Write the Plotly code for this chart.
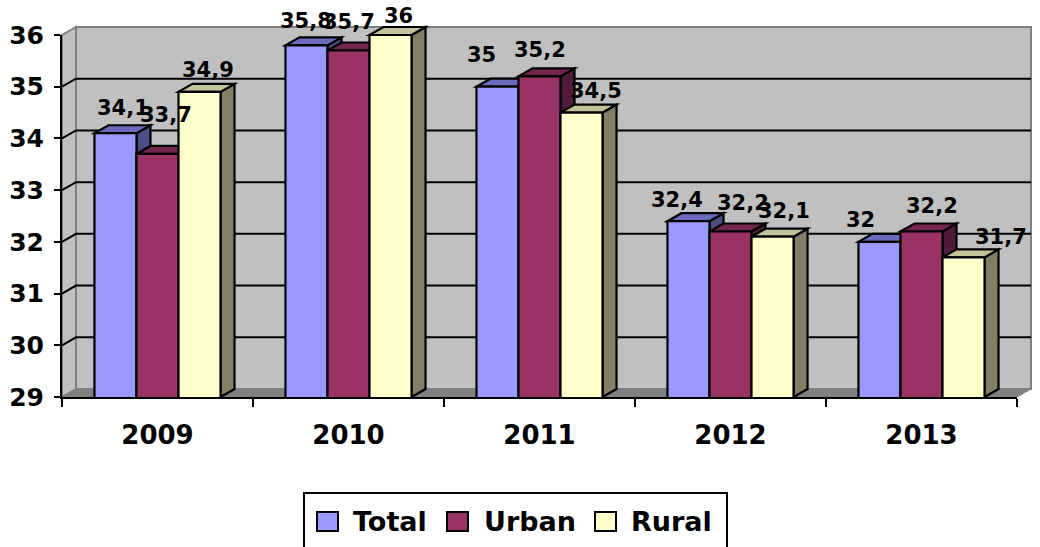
import plotly.graph_objects as go

# ---- data -------------------------------------------------------------
years = ["2009", "2010", "2011", "2012", "2013"]
total = [34.1, 35.8, 35.0, 32.4, 32.0]
urban = [33.7, 35.7, 35.2, 32.2, 32.2]
rural = [34.9, 36.0, 34.5, 32.1, 31.7]
series_names = ["Total", "Urban", "Rural"]
y_ticks = [29, 30, 31, 32, 33, 34, 35, 36]

# ---- style ------------------------------------------------------------
FONT = "DejaVu Sans"
FRONT = ["#9999FF", "#993366", "#FFFFCC"]
TOP = ["#6B6BBD", "#73264D", "#C2C29B"]
SIDE = ["#4D4D85", "#521A39", "#808066"]
WALL, FLOOR, EDGE = "#C0C0C0", "#808080", "#808080"

# label nudges (px) for each series, per year
LABEL_DX = [[8, 0, -16, -11, -19], [8, 0, 0, 12, 10], [8, 8, 14, 11, 37]]
LABEL_DY = [[25, 24, 32, 21, 22], [39, 29, 26, 29, 26], [22, 19, 22, 26, 20]]

# ---- geometry ---------------------------------------------------------
W, H = 1040, 547
ML, MR, MT, MB = 62, 23, 35, 150
PW, PH = W - ML - MR, H - MT - MB
Y0, Y1 = y_ticks[0], y_ticks[-1]
DX_PX, DY_PX = 14, 8                     # depth of the 3-D box
BARGAP = 0.34
BAR_W = (1 - BARGAP) / len(series_names)
BAR_PX = PW / len(years) * BAR_W


def yp(v):
    """value -> paper y"""
    return (v - Y0) / (Y1 - Y0)


def px2x(px):
    return (px - ML) / PW


def px2y(py):
    return (H - MB - py) / PH


DXP, DYP = DX_PX / PW, DY_PX / PH

fig = go.Figure()
values = [total, urban, rural]
for j, (name, vals) in enumerate(zip(series_names, values)):
    fig.add_trace(go.Bar(
        name=name, x=years, y=vals,
        marker=dict(color=FRONT[j], line=dict(color="black", width=2.2)),
        hoverinfo="skip", showlegend=False,
    ))

shapes = []
# back wall, left wall, floor
shapes.append(dict(type="rect", xref="paper", yref="paper",
                   x0=DXP, x1=1 + DXP, y0=yp(Y0) + DYP, y1=yp(Y1) + DYP,
                   fillcolor=WALL, line=dict(color=EDGE, width=2), layer="below"))
shapes.append(dict(type="path", xref="paper", yref="paper",
                   path=f"M0,{yp(Y0)} L{DXP},{yp(Y0) + DYP} L{DXP},{yp(Y1) + DYP} L0,{yp(Y1)} Z",
                   fillcolor=WALL, line=dict(color=EDGE, width=2), layer="below"))
shapes.append(dict(type="path", xref="paper", yref="paper",
                   path=f"M0,{yp(Y0)} L{DXP},{yp(Y0) + DYP} L{1 + DXP},{yp(Y0) + DYP} L1,{yp(Y0)} Z",
                   fillcolor=FLOOR, line=dict(color=EDGE, width=1), layer="below"))
# gridlines on the walls
for v in y_ticks[1:-1]:
    shapes.append(dict(type="path", xref="paper", yref="paper",
                       path=f"M0,{yp(v)} L{DXP},{yp(v) + DYP} L{1 + DXP},{yp(v) + DYP}",
                       line=dict(color="black", width=2), layer="below"))

# 3-D faces of each bar (side then top), left to right
for i in range(len(years)):
    for j, vals in enumerate(values):
        v = vals[i]
        right = i + (j - 1) * BAR_W + BAR_W / 2
        shapes.append(dict(
            type="path", xref="x", yref="paper", xsizemode="pixel", xanchor=right,
            path=(f"M0,{yp(Y0)} L{DX_PX},{yp(Y0) + DYP} "
                  f"L{DX_PX},{yp(v) + DYP} L0,{yp(v)} Z"),
            fillcolor=SIDE[j], line=dict(color="black", width=2.2), layer="below"))
        shapes.append(dict(
            type="path", xref="x", yref="paper", xsizemode="pixel", xanchor=right,
            path=(f"M{-BAR_PX},{yp(v)} L0,{yp(v)} L{DX_PX},{yp(v) + DYP} "
                  f"L{DX_PX - BAR_PX},{yp(v) + DYP} Z"),
            fillcolor=TOP[j], line=dict(color="black", width=2.2), layer="below"))

# legend box drawn by hand so the swatches match the text size
shapes.append(dict(type="rect", xref="paper", yref="paper",
                   x0=px2x(304), x1=px2x(727), y0=px2y(560), y1=px2y(493),
                   line=dict(color="black", width=2), fillcolor="white", layer="above"))
legend_swatch_px = [317, 447, 595]
legend_text_px = [351, 482, 629]
annotations = []
for j, name in enumerate(series_names):
    shapes.append(dict(type="rect", xref="paper", yref="paper",
                       x0=px2x(legend_swatch_px[j]), x1=px2x(legend_swatch_px[j] + 21),
                       y0=px2y(531), y1=px2y(512),
                       fillcolor=FRONT[j], line=dict(color="black", width=2), layer="above"))
    annotations.append(dict(xref="paper", yref="paper", x=px2x(legend_text_px[j]), y=px2y(521),
                            xanchor="left", yanchor="middle", showarrow=False, text=name,
                            font=dict(family=FONT, size=27, color="black", weight="bold")))

# value labels
for j, vals in enumerate(values):
    for i, v in enumerate(vals):
        annotations.append(dict(
            xref="x", yref="y", x=i + (j - 1) * BAR_W, y=v,
            xshift=LABEL_DX[j][i], yshift=LABEL_DY[j][i],
            xanchor="center", yanchor="middle", showarrow=False,
            text=f"{v:g}".replace(".", ","),
            font=dict(family=FONT, size=21, color="black", weight="bold")))

fig.update_layout(
    width=W, height=H,
    margin=dict(l=ML, r=MR, t=MT, b=MB, autoexpand=False),
    paper_bgcolor="white", plot_bgcolor="white",
    barmode="group", bargap=BARGAP, bargroupgap=0,
    shapes=shapes, annotations=annotations,
    showlegend=False,
    xaxis=dict(type="category", range=[-0.5, len(years) - 0.5],
               tickson="boundaries", ticks="outside", ticklen=8,
               tickwidth=2, tickcolor="black", showline=True, linecolor="black",
               linewidth=2, showgrid=False, ticklabelstandoff=14,
               tickfont=dict(family=FONT, size=26, color="black", weight="bold")),
    yaxis=dict(range=[Y0, Y1], tickvals=y_ticks, ticks="outside", ticklen=6,
               tickwidth=2, tickcolor="black", showline=True, linecolor="black",
               linewidth=2, showgrid=False, zeroline=False, ticklabelstandoff=5,
               tickfont=dict(family=FONT, size=25, color="black", weight="bold")),
)

fig.write_html("out.html")
